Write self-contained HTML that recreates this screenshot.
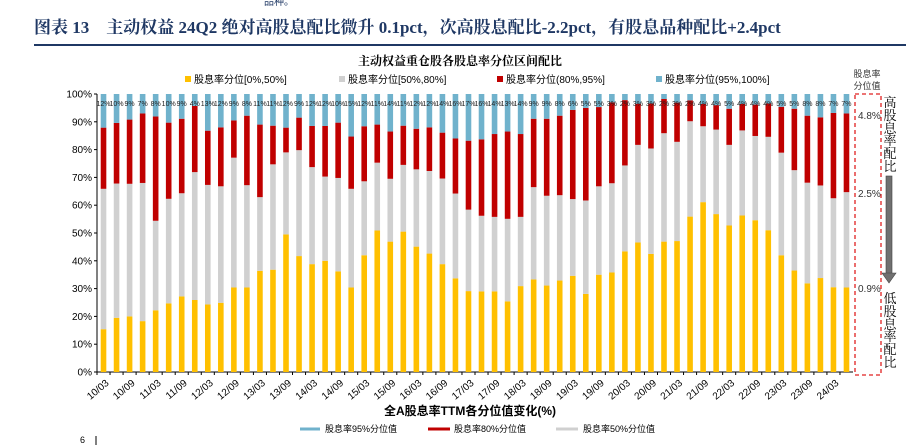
<!DOCTYPE html>
<html><head><meta charset="utf-8"><style>
html,body{margin:0;padding:0;background:#fff;width:906px;height:445px;overflow:hidden}
svg{display:block;font-family:"Liberation Sans","Noto Sans CJK SC",sans-serif}
</style></head><body>
<svg id="chart" width="906" height="445" viewBox="0 0 906 445" xmlns="http://www.w3.org/2000/svg">
<text x="264" y="5" font-size="10" fill="#1F3864">品种。</text>
<text x="34" y="33" font-size="17" font-weight="bold" fill="#1F3864" font-family="'Liberation Serif','Noto Serif CJK SC',serif">图表 13　主动权益 24Q2 绝对高股息配比微升 0.1pct，次高股息配比-2.2pct，有股息品种配比+2.4pct</text>
<line x1="34" y1="45" x2="906" y2="45" stroke="#1F3864" stroke-width="2"/>
<text x="460" y="65" font-size="12" font-weight="bold" text-anchor="middle" font-family="'Noto Serif CJK SC',serif">主动权益重仓股各股息率分位区间配比</text>
<g font-size="10">
<g><rect x="185" y="76" width="6" height="6" fill="#FFC000"/><text x="194" y="83">股息率分位[0%,50%]</text></g>
<g><rect x="339" y="76" width="6" height="6" fill="#D0D0D0"/><text x="348" y="83">股息率分位[50%,80%]</text></g>
<g><rect x="497" y="76" width="6" height="6" fill="#C00000"/><text x="506" y="83">股息率分位(80%,95%]</text></g>
<g><rect x="656" y="76" width="6" height="6" fill="#70B2CC"/><text x="665" y="83">股息率分位(95%,100%]</text></g>
</g>
<text x="867" y="77" font-size="9" text-anchor="middle" fill="#333">股息率</text>
<text x="867" y="89" font-size="9" text-anchor="middle" fill="#333">分位值</text>
<g id="plot"></g>
<rect x="855" y="94" width="26" height="281" fill="none" stroke="#E02020" stroke-width="1.3" stroke-dasharray="4,3"/>
<text x="858" y="119" font-size="10" fill="#333">4.8%</text>
<text x="858" y="197" font-size="10" fill="#333">2.5%</text>
<text x="858" y="292" font-size="10" fill="#333">0.9%</text>
<g font-size="13" text-anchor="middle" font-family="'Noto Serif CJK SC',serif">
<text x="890" y="107">高</text><text x="890" y="120">股</text><text x="890" y="133">息</text><text x="890" y="145">率</text><text x="890" y="158">配</text><text x="890" y="171">比</text></g>
<g><rect x="886" y="176" width="6" height="98" fill="#707070" stroke="#444" stroke-width="0.6"/><polygon points="882,273 896,273 889,283" fill="#707070" stroke="#444" stroke-width="0.6"/></g>
<g font-size="13" text-anchor="middle" font-family="'Noto Serif CJK SC',serif">
<text x="890" y="303">低</text><text x="890" y="316">股</text><text x="890" y="329">息</text><text x="890" y="341">率</text><text x="890" y="354">配</text><text x="890" y="367">比</text></g>
<text x="470" y="415" font-size="12" font-weight="bold" text-anchor="middle">全A股息率TTM各分位值变化(%)</text>
<g font-size="9">
<line x1="300" y1="429" x2="320" y2="429" stroke="#70B2CC" stroke-width="3"/><text x="325" y="432">股息率95%分位值</text>
<line x1="428" y1="429" x2="450" y2="429" stroke="#C00000" stroke-width="3"/><text x="454" y="432">股息率80%分位值</text>
<line x1="556" y1="429" x2="578" y2="429" stroke="#D0D0D0" stroke-width="3"/><text x="583" y="432">股息率50%分位值</text>
</g>
<text x="80" y="443" font-size="9">6</text>
<line x1="96" y1="436" x2="96" y2="445" stroke="#000"/>
</svg>
<script>
const categories=["10/03","10/06","10/09","10/12","11/03","11/06","11/09","11/12","12/03","12/06","12/09","12/12","13/03","13/06","13/09","13/12","14/03","14/06","14/09","14/12","15/03","15/06","15/09","15/12","16/03","16/06","16/09","16/12","17/03","17/06","17/09","17/12","18/03","18/06","18/09","18/12","19/03","19/06","19/09","19/12","20/03","20/06","20/09","20/12","21/03","21/06","21/09","21/12","22/03","22/06","22/09","22/12","23/03","23/06","23/09","23/12","24/03","24/06"];
const seriesLow=[15.4,19.5,20,18.3,22.2,24.7,27.2,25.9,24.3,24.9,30.4,30.4,36.4,36.8,49.5,41.7,38.8,40,36.2,30.4,42,50.9,46.9,50.5,45.1,42.6,38.8,33.7,29.1,29,29,25.4,30.9,33.3,31.1,32.9,34.6,28.1,35,35.8,43.4,46.6,42.5,46.9,47.1,55.9,61.1,56.8,52.7,56.3,54.6,51,42,36.5,31.9,33.8,30.5,30.4];
const seriesMid=[50.5,48.3,47.7,49.7,32.2,37.6,37.1,46,43,41.9,46.7,36.8,26.5,37.9,29.5,38.1,34.9,30.3,33.6,35.5,26.6,24.4,22.6,24,27.8,29.7,30.8,30.5,29.3,27.2,26.8,29.7,24.9,33.2,32.3,30.7,27.6,33.6,31.8,32.1,30.9,35.1,37.9,39,35.7,34.3,27.3,30.4,29,30.6,30.3,33.6,36.9,36.1,36.2,33.3,32,34.3];
const seriesHigh=[22,21.8,23.1,25,37.5,27.4,26.8,23.8,19.5,21.2,13.4,25,26.1,13.9,8.9,11.7,14.8,18.2,19.9,18.8,19.8,13.7,17,14.1,14.6,15.7,16.5,19.8,24.8,27.5,29.8,31.4,29.8,24.6,27.7,28.6,32.1,33.3,28.5,29.1,23.5,14.8,16.2,12.3,14.1,7.5,8,8.8,13,9.5,11.3,12,16.5,22.1,24.1,24.5,30.7,28.3];
const topLabels=["12%","10%","9%","7%","8%","10%","9%","4%","13%","12%","9%","8%","11%","11%","12%","9%","12%","12%","10%","15%","12%","11%","14%","11%","12%","12%","14%","16%","17%","16%","14%","13%","14%","9%","9%","8%","6%","5%","5%","3%","2%","3%","3%","2%","3%","2%","4%","4%","5%","4%","4%","4%","5%","5%","8%","8%","7%","7%"];
const yTicks=[0,10,20,30,40,50,60,70,80,90,100];
const NS="http://www.w3.org/2000/svg";
const plot=document.getElementById('plot');
const X0=97,X1=853,Y0=372,Y1=94;
const n=categories.length;
const step=(X1-X0)/n;
function xCenter(i){return X0+step*(i+0.5);}
function yScale(v){return Y0-(v/100)*(Y0-Y1);}
function mk(tag,attrs){const e=document.createElementNS(NS,tag);for(const k in attrs)e.setAttribute(k,attrs[k]);plot.appendChild(e);return e;}
const ya=mk('line',{x1:X0,y1:Y1,x2:X0,y2:Y0,stroke:'#000','stroke-width':1});


const xa=mk('line',{x1:X0,y1:Y0,x2:X1,y2:Y0,stroke:'#000','stroke-width':1});


yTicks.forEach(t=>{
  const y=yScale(t);
  mk('line',{x1:X0-3,y1:y,x2:X0,y2:y,stroke:'#000'});
  const tx=mk('text',{x:X0-5,y:y+3.5,'font-size':10,'text-anchor':'end'});
  tx.textContent=t+'%';
  
  
});
const colors=['#FFC000','#D0D0D0','#C00000','#70B2CC'];
const bw=5.6;
for(let i=0;i<n;i++){
  const cx=xCenter(i);
  mk('line',{x1:X0+step*i,y1:Y0,x2:X0+step*i,y2:Y0+3,stroke:'#000'});
  const vals=[seriesLow[i],seriesMid[i],seriesHigh[i],Math.max(0,100-seriesLow[i]-seriesMid[i]-seriesHigh[i])];
  let acc=0;
  vals.forEach((v,k)=>{
    const r=mk('rect',{x:cx-bw/2,y:yScale(acc+v),width:bw,height:yScale(acc)-yScale(acc+v),fill:colors[k]});
    
    
    acc+=v;
  });
  const lb=mk('text',{x:cx,y:yScale(100)+12,'font-size':7,'text-anchor':'middle',fill:'#222'});
  lb.textContent=topLabels[i];
  
  
  if(i%2===0){
    const t=mk('text',{x:cx+6,y:Y0+12,'font-size':10,'text-anchor':'end',transform:'rotate(-40 '+(cx+6)+' '+(Y0+12)+')'});
    t.textContent=categories[i];
    
    
  }
}
</script>
</body></html>
